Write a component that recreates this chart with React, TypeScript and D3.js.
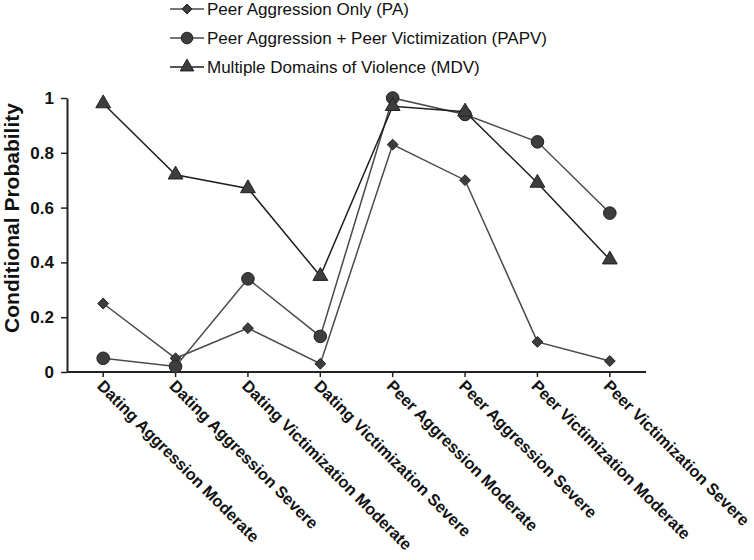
import * as d3 from "d3";
import { useRef, useEffect } from "react";

const categories = [
  "Dating Aggression Moderate",
  "Dating Aggression Severe",
  "Dating Victimization Moderate",
  "Dating Victimization Severe",
  "Peer Aggression Moderate",
  "Peer Aggression Severe",
  "Peer Victimization Moderate",
  "Peer Victimization Severe",
];

const paValues = [0.25, 0.05, 0.16, 0.03, 0.83, 0.70, 0.11, 0.04];
const papvValues = [0.05, 0.02, 0.34, 0.13, 1.0, 0.94, 0.84, 0.58];
const mdvValues = [0.98, 0.72, 0.67, 0.35, 0.97, 0.95, 0.69, 0.41];

const yTicks = [0, 0.2, 0.4, 0.6, 0.8, 1];
const yTickLabels = ["0", "0.2", "0.4", "0.6", "0.8", "1"];

const seriesNames = [
  "Peer Aggression Only (PA)",
  "Peer Aggression + Peer Victimization (PAPV)",
  "Multiple Domains of Violence (MDV)",
];

const width = 754;
const height = 560;
const marginLeft = 67;
const marginRight = 108;
const marginTop = 98;
const yBottom = 372;

const font = "Liberation Sans, Arial, sans-serif";

type Series = { name: string; values: number[]; symbol: d3.SymbolType; size: number; stroke: string };

const series: Series[] = [
  { name: seriesNames[0], values: paValues, symbol: d3.symbolDiamond2, size: 75, stroke: "#4a4a4a" },
  { name: seriesNames[1], values: papvValues, symbol: d3.symbolCircle, size: 125, stroke: "#4a4a4a" },
  { name: seriesNames[2], values: mdvValues, symbol: d3.symbolTriangle, size: 95, stroke: "#1e1e1e" },
];

const App = () => {
  const gx = useRef<SVGGElement>(null);
  const gy = useRef<SVGGElement>(null);

  const x = d3.scaleBand<string>()
    .domain(categories)
    .range([marginLeft, width - marginRight]);

  const cx = (c: string) => (x(c) ?? 0) + x.bandwidth() / 2;

  const y = d3.scaleLinear()
    .domain([0, 1])
    .range([yBottom, marginTop]);

  const line = d3.line<number>()
    .x((_, i) => cx(categories[i]))
    .y(d => y(d));

  useEffect(() => {
    if (gx.current) {
      const g = d3.select(gx.current);
      g.selectAll("*").remove();
      g.call(d3.axisBottom(x).tickSize(5).tickSizeOuter(0).tickFormat(() => ""));
      g.select(".domain").attr("stroke", "#222").attr("stroke-width", 2)
        .attr("d", `M${marginLeft},0H${width - marginRight}`);
      g.selectAll(".tick line").attr("stroke", "#222").attr("stroke-width", 1.5);
      g.selectAll(".tick text").remove();
    }
    if (gy.current) {
      const g = d3.select(gy.current);
      g.selectAll("*").remove();
      g.call(
        d3.axisLeft(y)
          .tickValues(yTicks)
          .tickSize(6)
          .tickSizeOuter(0)
          .tickFormat((_, i) => yTickLabels[i])
      );
      g.select(".domain").attr("stroke", "#222").attr("stroke-width", 2);
      g.selectAll(".tick line").attr("stroke", "#222").attr("stroke-width", 1.5);
      g.selectAll(".tick text")
        .attr("font-family", font)
        .attr("font-size", 17)
        .attr("font-weight", "bold")
        .attr("fill", "#111")
        .attr("x", -13);
    }
  }, []);

  return (
    <svg width={width} height={height} style={{ position: "absolute", left: 0, top: 0, background: "#fff" }}>
      {/* legend */}
      <g fontFamily={font} fontSize={17} fill="#111">
        {series.map((s, i) => {
          const ly = 9 + i * 29;
          return (
            <g key={s.name}>
              <line x1={170} x2={204} y1={ly} y2={ly} stroke={s.stroke} strokeWidth={1.5} />
              <path
                d={d3.symbol(s.symbol, s.size * 0.85)() || ""}
                transform={`translate(187,${ly})`}
                fill="#3d3d3d"
                stroke="#222"
                strokeWidth={1}
              />
              <text x={207} y={ly} dy="0.35em">{s.name}</text>
            </g>
          );
        })}
      </g>

      <g ref={gx} transform={`translate(0,${yBottom})`} />
      <g ref={gy} transform={`translate(${marginLeft},0)`} />

      {/* y title */}
      <text
        transform={`translate(19,218) rotate(-90)`}
        textAnchor="middle"
        fontFamily={font}
        fontSize={21}
        fontWeight="bold"
        fill="#111"
      >
        Conditional Probability
      </text>

      {/* x labels */}
      <g fontFamily={font} fontSize={16.3} fontWeight="bold" fill="#111">
        {categories.map(c => (
          <text key={c} transform={`translate(${cx(c) - 3},${yBottom + 11}) rotate(45)`} dy="0.35em">
            {c}
          </text>
        ))}
      </g>

      {/* series */}
      {series.map(s => (
        <g key={s.name}>
          <path d={line(s.values) || ""} fill="none" stroke={s.stroke} strokeWidth={1.5} />
          {s.values.map((v, i) => (
            <path
              key={i}
              d={d3.symbol(s.symbol, s.size)() || ""}
              transform={`translate(${cx(categories[i])},${y(v)})`}
              fill="#3d3d3d"
              stroke="#222"
              strokeWidth={1}
            />
          ))}
        </g>
      ))}
    </svg>
  );
};

export default App;
